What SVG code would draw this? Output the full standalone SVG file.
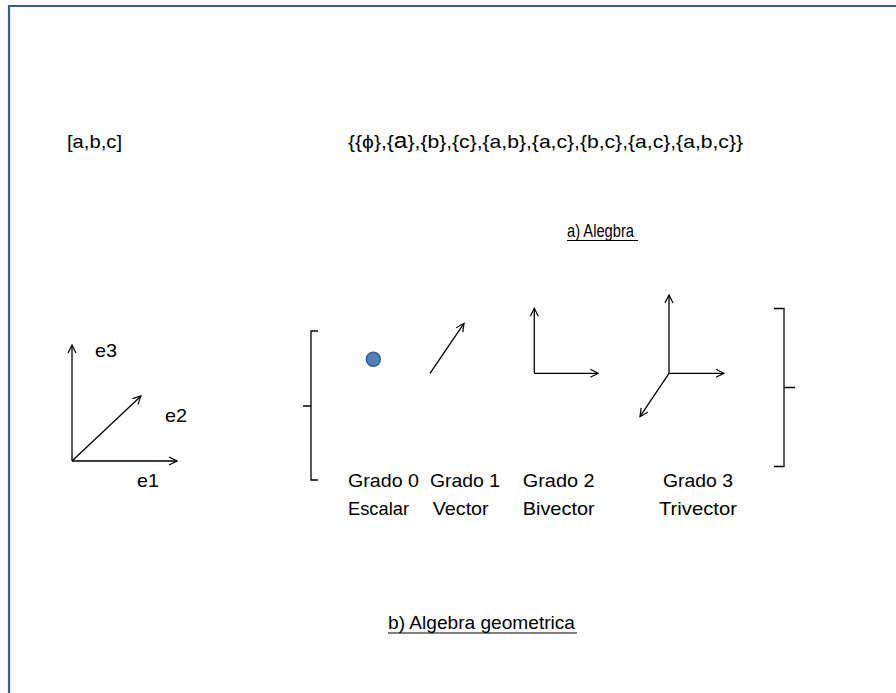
<svg xmlns="http://www.w3.org/2000/svg" width="896" height="693" viewBox="0 0 896 693">
<style>
  text { font-family: "Liberation Sans", Arial, sans-serif; font-size: 19px; fill: #000; }
  .ln { stroke: #000; stroke-width: 1.3; fill: none; }
  .ul { stroke: #000; stroke-width: 1.2; }
</style>
<defs>
  <marker id="arr" viewBox="0 0 10 10" refX="9" refY="5" markerWidth="10" markerHeight="10" markerUnits="userSpaceOnUse" orient="auto">
    <path d="M1,1 L9,5 L1,9" fill="none" stroke="#000" stroke-width="1.2"/>
  </marker>
</defs>
<rect width="896" height="693" fill="#fff"/>
<path d="M9,700 L9,6 L900,6" fill="none" stroke="#385d8a" stroke-width="2.2"/>

<g id="tuple"><text x="67" y="148" textLength="55" lengthAdjust="spacingAndGlyphs">[a,b,c]</text></g>
<g id="set"><text x="348" y="148" textLength="395" lengthAdjust="spacingAndGlyphs">{{ϕ},{<tspan font-size="22">a</tspan>},{b},{c},{a,b},{a,c},{b,c},{a,c},{a,b,c}}</text></g>
<g id="caption-a">
  <text x="567" y="237" font-size="17.5" textLength="67" lengthAdjust="spacingAndGlyphs">a)  Alegbra</text>
  <line class="ul" x1="567" y1="240.5" x2="638" y2="240.5"/>
</g>

<g id="basis">
  <line class="ln" x1="72" y1="461" x2="72" y2="345" marker-end="url(#arr)"/>
  <line class="ln" x1="72" y1="461" x2="177" y2="461" marker-end="url(#arr)"/>
  <line class="ln" x1="72" y1="461" x2="141" y2="396" marker-end="url(#arr)"/>
  <text x="95" y="357" textLength="22" lengthAdjust="spacingAndGlyphs">e3</text>
  <text x="165" y="422" textLength="22" lengthAdjust="spacingAndGlyphs">e2</text>
  <text x="137" y="487" textLength="22" lengthAdjust="spacingAndGlyphs">e1</text>
</g>

<g id="bracket-left"><path class="ln" d="M318,331 L311,331 L311,480 L318,480 M311,406 L303,406"/></g>
<g id="bracket-right"><path class="ln" d="M774,308.5 L784,308.5 L784,466.5 L774,466.5 M784,387.5 L795,387.5"/></g>

<g id="grade0">
  <circle cx="373.3" cy="359.3" r="7" fill="#4f81bd" stroke="#385d8a" stroke-width="1.5"/>
  <text x="348" y="487" textLength="71" lengthAdjust="spacingAndGlyphs">Grado 0</text>
  <text x="348" y="515" textLength="61" lengthAdjust="spacingAndGlyphs">Escalar</text>
</g>
<g id="grade1">
  <line class="ln" x1="430" y1="373.3" x2="464" y2="323.3" marker-end="url(#arr)"/>
  <text x="430" y="487" textLength="70" lengthAdjust="spacingAndGlyphs">Grado 1</text>
  <text x="432.7" y="515" textLength="56" lengthAdjust="spacingAndGlyphs">Vector</text>
</g>
<g id="grade2">
  <line class="ln" x1="534.3" y1="373.3" x2="534.3" y2="308.3" marker-end="url(#arr)"/>
  <line class="ln" x1="534.3" y1="373.3" x2="598.3" y2="373.3" marker-end="url(#arr)"/>
  <text x="522.7" y="487" textLength="72" lengthAdjust="spacingAndGlyphs">Grado 2</text>
  <text x="522.7" y="515" textLength="72" lengthAdjust="spacingAndGlyphs">Bivector</text>
</g>
<g id="grade3">
  <line class="ln" x1="669" y1="373.3" x2="669" y2="295" marker-end="url(#arr)"/>
  <line class="ln" x1="669" y1="373.3" x2="724" y2="373.3" marker-end="url(#arr)"/>
  <line class="ln" x1="669" y1="373.3" x2="640" y2="416.7" marker-end="url(#arr)"/>
  <text x="663" y="487" textLength="70" lengthAdjust="spacingAndGlyphs">Grado 3</text>
  <text x="659" y="515" textLength="78" lengthAdjust="spacingAndGlyphs">Trivector</text>
</g>

<g id="caption-b">
  <text x="388" y="629" textLength="187" lengthAdjust="spacingAndGlyphs">b) Algebra geometrica</text>
  <line class="ul" x1="388" y1="633" x2="577" y2="633"/>
</g>
<g id="connectors"></g>
</svg>
